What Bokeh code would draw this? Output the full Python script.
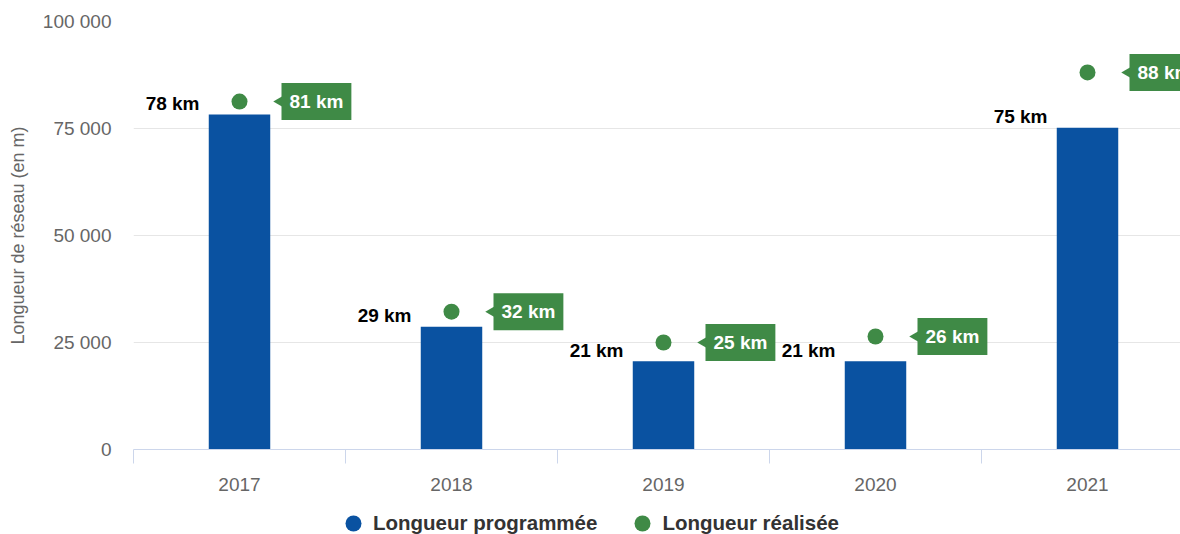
import math
from bokeh.plotting import figure
from bokeh.layouts import column
from bokeh.models import (ColumnDataSource, FixedTicker, CustomJSTickFormatter,
                          Legend, LegendItem, Range1d)
from bokeh.core.properties import value
from bokeh.embed import file_html
from bokeh.resources import INLINE

# ---- data ----
years = ["2017", "2018", "2019", "2020", "2021"]
programmee = [78300, 28700, 20600, 20600, 75200]
realisee = [81300, 32200, 25000, 26400, 88100]
y_ticks = [0, 25000, 50000, 75000, 100000]
series_names = ["Longueur programmée", "Longueur réalisée"]

BLUE = "#0a52a1"
GREEN = "#3f8a46"
FONT = "Liberation Sans"

x = list(range(len(years)))
prog_labels = [f"{round(v / 1000)} km" for v in programmee]
real_labels = [f"{round(v / 1000)} km" for v in realisee]

W = 1180
H_MAIN, H_LEG = 493, 41
LEFT = 133
frame_w = W - LEFT
px_per_unit = 212.0
x_start = -0.5
x_end = x_start + frame_w / px_per_unit

arrow_dx = 43 / px_per_unit
arrow_x = [xi + arrow_dx for xi in x]

src = ColumnDataSource(dict(x=x, prog=programmee, real=realisee,
                            prog_lbl=prog_labels, real_lbl=real_labels,
                            arrow_x=arrow_x))

p = figure(width=W, height=H_MAIN, output_backend="svg", toolbar_location=None,
           x_range=Range1d(x_start, x_end), y_range=Range1d(0, 100000),
           min_border_left=LEFT, min_border_right=0, min_border_top=21,
           min_border_bottom=44)
p.outline_line_color = None
p.background_fill_color = "white"

# bars
p.vbar(x="x", top="prog", width=0.29, source=src, fill_color=BLUE, line_color=None)

# realised points
p.scatter(x="x", y="real", source=src, size=16, fill_color=GREEN, line_color=None)

# bar labels
p.text(x="x", y="prog", text="prog_lbl", source=src, x_offset=-40, y_offset=-11,
       text_align="right", text_baseline="middle", text_font=value(FONT),
       text_font_size="19px", text_font_style="bold", text_color="black")

# callout arrows
p.scatter(x="arrow_x", y="real", source=src, marker="triangle", angle=math.pi / 2,
          size=16, fill_color=GREEN, line_color=None)

# callout boxes
p.text(x="x", y="real", text="real_lbl", source=src, x_offset=42, y_offset=0,
       text_align="left", text_baseline="middle", text_font=value(FONT),
       text_font_size="19px", text_font_style="bold", text_color="white",
       background_fill_color=GREEN, border_line_color=None, padding=8)

# axes
xa = p.xaxis[0]
xa.ticker = FixedTicker(ticks=x, minor_ticks=[i - 0.5 for i in range(len(years) + 1)])
xa.major_label_overrides = {i: y for i, y in zip(x, years)}
xa.axis_line_color = "#ccd6eb"
xa.major_tick_line_color = None
xa.major_tick_out = 0
xa.major_tick_in = 0
xa.minor_tick_line_color = "#ccd6eb"
xa.minor_tick_out = 14
xa.minor_tick_in = 0
xa.major_label_standoff = 14
xa.major_label_text_font = FONT
xa.major_label_text_font_size = "19px"
xa.major_label_text_color = "#666666"

ya = p.yaxis[0]
ya.ticker = FixedTicker(ticks=y_ticks)
ya.formatter = CustomJSTickFormatter(
    code='return Math.round(tick).toString().replace(/\\B(?=(\\d{3})+(?!\\d))/g, " ");')
ya.axis_line_color = None
ya.major_tick_line_color = None
ya.minor_tick_line_color = None
ya.major_tick_out = 0
ya.major_tick_in = 0
ya.major_label_standoff = 22
ya.major_label_text_font = FONT
ya.major_label_text_font_size = "19px"
ya.major_label_text_color = "#666666"
ya.axis_label = "Longueur de réseau (en m)"
ya.axis_label_text_font = FONT
ya.axis_label_text_font_size = "18px"
ya.axis_label_text_font_style = "normal"
ya.axis_label_text_color = "#666666"
ya.axis_label_standoff = 12

p.xgrid.grid_line_color = None
p.ygrid.grid_line_color = "#e6e6e6"
p.ygrid.ticker = FixedTicker(ticks=y_ticks)

# ---- legend strip (separate figure so that it sits below the axis) ----
lg = figure(width=W, height=H_LEG, output_backend="svg", toolbar_location=None,
            x_range=Range1d(0, 1), y_range=Range1d(0, 1),
            x_axis_type=None, y_axis_type=None, min_border=0)
lg.outline_line_color = None
lg.xgrid.grid_line_color = None
lg.ygrid.grid_line_color = None
# proxies: same data, far outside this strip's ranges, so only legend glyphs show
r_prog = lg.scatter(x="x", y="prog", source=src, size=16, fill_color=BLUE, line_color=None)
r_real = lg.scatter(x="x", y="real", source=src, size=16, fill_color=GREEN, line_color=None)
legend = Legend(items=[LegendItem(label=series_names[0], renderers=[r_prog]),
                       LegendItem(label=series_names[1], renderers=[r_real])],
                orientation="horizontal", location=(200, -9),
                glyph_width=40, glyph_height=40, label_standoff=0, spacing=25,
                padding=0, margin=0, border_line_color=None,
                background_fill_alpha=0,
                label_text_font=FONT, label_text_font_size="20.5px",
                label_text_font_style="bold", label_text_color="#333333")
lg.add_layout(legend, "center")

layout = column(p, lg, spacing=0)
open("out.html", "w").write(file_html(layout, INLINE))
